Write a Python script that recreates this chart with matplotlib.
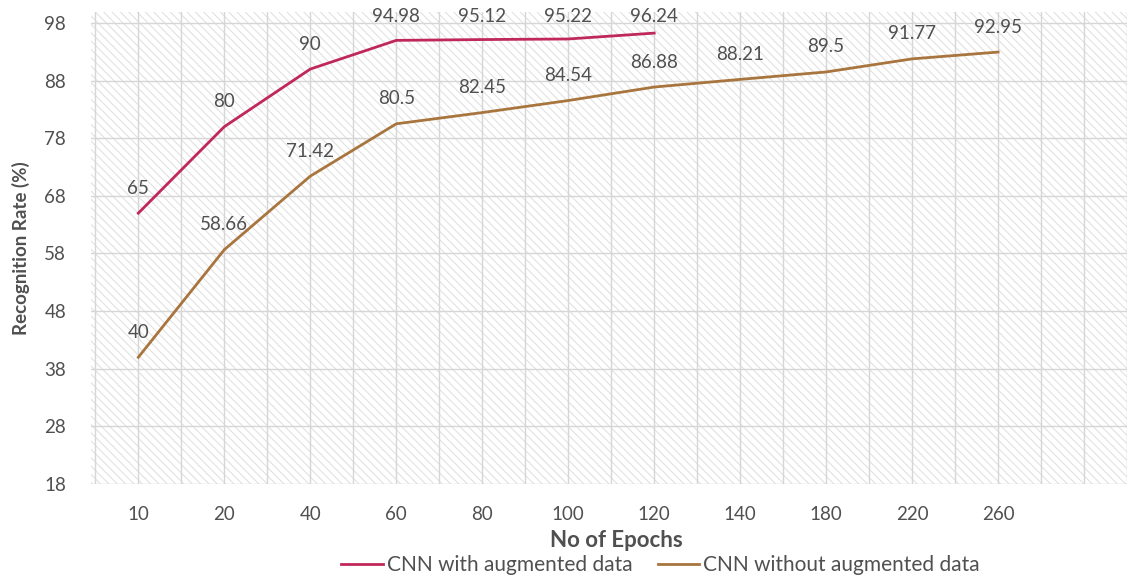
import numpy as np
import matplotlib.pyplot as plt
from matplotlib.patches import Rectangle
from matplotlib.ticker import MultipleLocator

plt.rcParams['font.family'] = ['Lato', 'DejaVu Sans']
plt.rcParams['hatch.linewidth'] = 0.7

# epochs on the x axis (one empty slot after 260)
epochs = ['10', '20', '40', '60', '80', '100', '120', '140', '180', '220', '260']
with_aug = [65, 80, 90, 94.98, 95.12, 95.22, 96.24]
without_aug = [40, 58.66, 71.42, 80.5, 82.45, 84.54, 86.88, 88.21, 89.5, 91.77, 92.95]
yticks = [18, 28, 38, 48, 58, 68, 78, 88, 98]

red = '#C0285A'
brown = '#A8753E'
txt = '#505050'
grid = '#d6d6d6'

fig = plt.figure(figsize=(11.31, 5.86), dpi=100)
ax = fig.add_axes([0.0805, 0.174, 0.916, 0.8055])

# hatched plot area
ax.add_patch(Rectangle((0, 0), 1, 1, transform=ax.transAxes, facecolor='white',
                       edgecolor='#dedede', hatch='\\\\\\\\', linewidth=0, zorder=0))

ax.set_xlim(-0.55, 11.5)
ax.set_ylim(18, 99.9)
ax.set_yticks(yticks)
ax.set_xticks(range(len(epochs)))
ax.set_xticklabels(epochs)
ax.xaxis.set_minor_locator(MultipleLocator(0.5))
ax.grid(True, which='both', axis='x', color=grid, lw=1, zorder=1)
ax.grid(True, which='major', axis='y', color=grid, lw=1, zorder=1)
ax.set_axisbelow(True)
for s in ax.spines.values():
    s.set_visible(False)
ax.tick_params(which='both', length=0)
ax.tick_params(axis='y', pad=18, labelsize=13.5, labelcolor=txt)
ax.tick_params(axis='x', pad=16, labelsize=13.5, labelcolor=txt)

x1 = np.arange(len(with_aug))
x2 = np.arange(len(without_aug))
ax.plot(x1, with_aug, color=red, lw=2, label='CNN with augmented data', zorder=3)
ax.plot(x2, without_aug, color=brown, lw=2, label='CNN without augmented data', zorder=3)

# value labels above the points, kept inside the top of the chart
for xs, ys in [(x1, with_aug), (x2, without_aug)]:
    for x, y in zip(xs, ys):
        ax.annotate(f'{y:g}', (x, min(y, 94.7)), xytext=(0, 18), textcoords='offset points',
                    ha='center', va='center', fontsize=13.5, color=txt, zorder=4)

ax.set_xlabel('No of Epochs', fontsize=16, fontweight='bold', color=txt, labelpad=4)
ax.xaxis.set_label_coords(0.507, -0.098)
ax.set_ylabel('Recognition Rate (%)', fontsize=13.5, fontweight='bold', color=txt, labelpad=10)

fig.legend(loc='center', bbox_to_anchor=(0.584, 0.036), ncol=2, frameon=False,
           fontsize=15, labelcolor=txt, handlelength=2.0, handletextpad=0.2,
           columnspacing=1.2)

fig.savefig('out.png', dpi=100)
